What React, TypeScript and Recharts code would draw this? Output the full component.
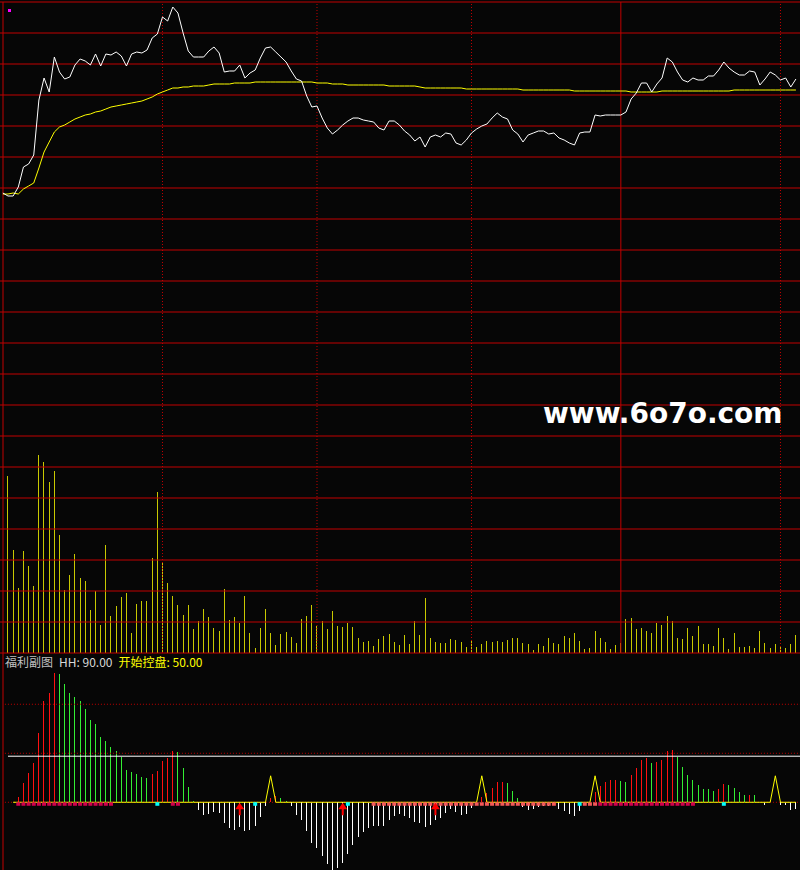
import React from 'react';
import { ComposedChart, Bar, Line, Scatter, XAxis, YAxis, ReferenceLine, Cell } from 'recharts';

// intraday minute data, index -1 is the call-auction point
const PRICE = [
  29.09,
  29.06, 29.06, 29.15, 29.35, 29.38, 29.47, 30.02, 30.24, 30.10, 30.45,
  30.30, 30.23, 30.25, 30.37, 30.43, 30.41, 30.37, 30.48, 30.36, 30.48,
  30.47, 30.50, 30.46, 30.36, 30.48, 30.50, 30.49, 30.52, 30.64, 30.68,
  30.85, 30.81, 30.95, 30.89, 30.69, 30.51, 30.45, 30.45, 30.45, 30.51,
  30.55, 30.49, 30.30, 30.31, 30.31, 30.37, 30.24, 30.29, 30.32, 30.44,
  30.54, 30.55, 30.50, 30.45, 30.40, 30.31, 30.23, 30.21, 30.06, 29.95,
  29.96, 29.84, 29.74, 29.68, 29.72, 29.77, 29.81, 29.84, 29.84, 29.82,
  29.81, 29.80, 29.74, 29.72, 29.81, 29.81, 29.77, 29.71, 29.67, 29.61,
  29.65, 29.55, 29.65, 29.67, 29.65, 29.69, 29.68, 29.59, 29.57, 29.62,
  29.69, 29.73, 29.76, 29.78, 29.84, 29.89, 29.85, 29.83, 29.72, 29.68,
  29.60, 29.67, 29.69, 29.71, 29.71, 29.68, 29.69, 29.64, 29.62, 29.59,
  29.57, 29.69, 29.70, 29.70, 29.87, 29.86, 29.87, 29.87, 29.87, 29.87,
  29.90, 30.03, 30.09, 30.19, 30.19, 30.10, 30.18, 30.24, 30.44, 30.40,
  30.30, 30.22, 30.20, 30.24, 30.22, 30.22, 30.26, 30.26, 30.32, 30.40,
  30.34, 30.30, 30.27, 30.27, 30.31, 30.30, 30.17, 30.23, 30.30, 30.27,
  30.22, 30.24, 30.15, 30.23,
];

const AVG_PRICE = [
  29.08,
  29.08, 29.09, 29.08, 29.13, 29.16, 29.19, 29.34, 29.50, 29.60, 29.70,
  29.75, 29.77, 29.80, 29.83, 29.85, 29.87, 29.88, 29.90, 29.91, 29.93,
  29.95, 29.96, 29.97, 29.98, 29.99, 30.00, 30.01, 30.03, 30.05, 30.08,
  30.10, 30.12, 30.14, 30.14, 30.15, 30.15, 30.16, 30.16, 30.16, 30.17,
  30.18, 30.18, 30.18, 30.18, 30.19, 30.19, 30.19, 30.19, 30.20, 30.20,
  30.20, 30.20, 30.20, 30.20, 30.20, 30.20, 30.20, 30.20, 30.20, 30.20,
  30.19, 30.19, 30.19, 30.18, 30.18, 30.18, 30.17, 30.17, 30.17, 30.17,
  30.17, 30.17, 30.17, 30.17, 30.16, 30.16, 30.16, 30.16, 30.16, 30.16,
  30.15, 30.14, 30.14, 30.14, 30.14, 30.14, 30.14, 30.14, 30.14, 30.13,
  30.13, 30.13, 30.13, 30.13, 30.13, 30.13, 30.13, 30.13, 30.13, 30.13,
  30.12, 30.12, 30.12, 30.12, 30.12, 30.12, 30.12, 30.12, 30.12, 30.12,
  30.11, 30.11, 30.11, 30.11, 30.11, 30.11, 30.11, 30.11, 30.11, 30.11,
  30.11, 30.10, 30.10, 30.10, 30.10, 30.10, 30.10, 30.11, 30.11, 30.11,
  30.11, 30.11, 30.11, 30.11, 30.11, 30.11, 30.11, 30.11, 30.11, 30.11,
  30.11, 30.12, 30.12, 30.12, 30.12, 30.12, 30.12, 30.12, 30.12, 30.12,
  30.12, 30.12, 30.12, 30.12,
];

// lots per minute
const VOLUME = [
  1770, 1030, 650, 1020, 870, 670, 1980, 1910, 1710, 1820,
  1180, 630, 780, 990, 750, 720, 430, 620, 280, 1080,
  370, 470, 560, 600, 200, 490, 520, 520, 950, 1610,
  910, 700, 570, 480, 380, 480, 240, 320, 440, 360,
  250, 220, 640, 330, 360, 300, 570, 200, 50, 250,
  440, 200, 80, 190, 210, 160, 100, 340, 370, 480,
  270, 320, 240, 420, 270, 260, 300, 260, 150, 110,
  120, 70, 140, 170, 190, 110, 80, 180, 90, 320,
  180, 550, 150, 110, 100, 100, 140, 130, 110, 60,
  130, 60, 90, 120, 110, 120, 110, 130, 150, 150,
  100, 90, 30, 90, 70, 150, 100, 90, 170, 150,
  200, 120, 40, 50, 220, 150, 110, 40, 80, 100,
  340, 350, 240, 250, 220, 200, 300, 280, 370, 320,
  150, 140, 250, 170, 270, 90, 90, 70, 250, 150,
  40, 200, 60, 60, 70, 50, 220, 100, 50, 90,
  60, 50, 90, 180,
];

const PRICE_GRID = [
  31.00, 30.69, 30.38, 30.07, 29.76, 29.45, 29.14, 28.83, 28.52, 28.21, 27.90,
  27.59, 27.28, 26.97, 26.66, 26.35, 26.04, 25.73, 25.42, 25.11, 24.80, 24.49,
];
const HALF_HOUR_MARKS = [30, 60, 90, 150];
const NOON_MARK = 119;

// 福利副图 indicator
const INDICATOR = [
  null, 0, 5.8, 20.1, 29.9, 40.1, 70.7, 103.3, 111.9, 131.9,
  130.9, 120.7, 111.5, 107.4, 103.3, 95.2, 83.9, 79.9, 66.6, 62.5,
  56.4, 52.3, 46.2, 32.9, 30.9, 28.9, 25.8, 24.8, 28.9, 31.9,
  42.1, 45.2, 52.3, 51.3, 35.0, 15.6, 1.3, -7.9, -13.0, -11.9,
  -9.9, -10.9, -21.1, -26.2, -28.3, -25.2, -29.3, -28.3, -24.2, -15.0,
  -3.8, 4.1, 6.8, 4.8, 1.3, -3.8, -13.0, -18.1, -29.3, -41.5,
  -46.6, -54.8, -63.0, -73.5, -67.0, -61.9, -52.8, -43.6, -35.4, -30.3,
  -26.2, -24.2, -24.2, -24.2, -18.1, -14.0, -11.9, -14.0, -16.0, -20.1,
  -21.1, -25.2, -23.2, -18.1, -16.0, -10.9, -6.8, -9.9, -13.0, -11.9,
  -5.8, 0, 5.4, 9.2, 14.6, 20.7, 20.7, 19.7, 11.5, 4.4,
  -4.4, -7.9, -6.8, -5.1, -3.4, -3.8, -2.0, -6.8, -8.9, -11.9,
  -14.0, -8.9, -2.0, 0, 10.9, 16.6, 20.7, 22.8, 22.8, 21.7,
  20.7, 27.9, 35.0, 43.2, 45.2, 40.1, 41.1, 43.2, 52.3, 53.3,
  46.2, 36.0, 27.9, 22.8, 17.6, 13.6, 13.3, 11.5, 13.6, 18.7,
  17.6, 14.6, 10.5, 7.4, 7.6, 7.3, 0, -2.8, 0, 0,
  -2.8, -2.8, -7.9, -6.8,
];
const TRIGGER_BARS = [51, 92, 114, 149];
const TRIGGER_LEVEL = 27;
const HOLD_SIGNAL = [
  2, 3, 4, 5, 6, 7, 8, 9, 10, 11, 12, 13, 14, 15, 16, 17, 18, 19, 20, 32, 33,
  115, 116, 117, 118, 119, 120, 121, 122, 123, 124, 125, 126, 127, 128, 129, 130, 131, 132, 133,
];
const WATCH_SIGNAL = [
  71, 72, 73, 74, 75, 76, 77, 78, 79, 80, 81, 82, 83, 84, 85, 86, 87, 88, 89, 90,
  91, 92, 93, 94, 95, 96, 97, 98, 99, 100, 101, 102, 103, 104, 105, 106, 112, 113, 114,
];
const TURN_SIGNAL = [29, 48, 66, 111, 139];
const BUY_ARROWS = [45, 65, 83];
const HH = 90;
const START_CONTROL = 50;
const BASE_LEVEL = 47;
const GUIDE_LEVELS = [0, 50, 100];

const X_DOMAIN: [number, number] = [-1.553, 153.79];
const GRID_RED = '#c00000';
const BAR_RED = '#ff1010';
const BAR_GREEN = '#33ee33';

const priceRows = PRICE.map((p, k) => ({
  i: k - 1,
  price: p,
  avg: AVG_PRICE[k],
  vol: k > 0 ? VOLUME[k - 1] : null,
}));

const indRows = INDICATOR.map((v, i) => ({
  i,
  ind: v,
  trig: i === 0 ? null : TRIGGER_BARS.includes(i) ? TRIGGER_LEVEL : 0,
}));

const barColor = (i: number) => {
  const v = INDICATOR[i];
  if (v == null) return 'transparent';
  if (v < 0) return '#ffffff';
  const prev = INDICATOR[i - 1] ?? 0;
  return v >= prev ? BAR_RED : BAR_GREEN;
};

const pts = (list: number[]) => list.map((i) => ({ i, v: 0 }));

const square = (color: string) => (props: any) => (
  <rect x={props.cx - 2} y={props.cy} width={4} height={3.5} fill={color} />
);

const arrow = (props: any) => {
  const { cx, cy } = props;
  const d = `M${cx},${cy + 0.5} L${cx + 4.5},${cy + 7} L${cx + 1},${cy + 7} L${cx + 1},${cy + 13} L${cx - 1},${cy + 13} L${cx - 1},${cy + 7} L${cx - 4.5},${cy + 7} Z`;
  return <path d={d} fill="#ff0000" />;
};

const App: React.FC = () => {
  return (
    <div style={{ position: 'absolute', left: 0, top: 0, width: 800, height: 870, background: '#060606', overflow: 'hidden' }}>
      {/* indicator panel */}
      <div style={{ position: 'absolute', left: 0, top: 653 }}>
        <ComposedChart width={800} height={217} data={indRows} margin={{ top: 0, right: 0, bottom: 0, left: 0 }}>
          <XAxis dataKey="i" type="number" domain={X_DOMAIN} hide allowDataOverflow />
          <YAxis type="number" domain={[-69.1, 152.3]} hide allowDataOverflow />
          {GUIDE_LEVELS.map((g) => (
            <ReferenceLine
              key={g}
              segment={[{ x: -0.6, y: g }, { x: X_DOMAIN[1], y: g }]}
              stroke={GRID_RED}
              strokeDasharray="1 2"
              ifOverflow="visible"
            />
          ))}
          <ReferenceLine
            segment={[{ x: 0, y: BASE_LEVEL }, { x: X_DOMAIN[1], y: BASE_LEVEL }]}
            stroke="#ffffff"
            ifOverflow="visible"
          />
          <ReferenceLine x={-0.97} stroke={GRID_RED} ifOverflow="visible" />
          <Bar dataKey="ind" barSize={1} isAnimationActive={false} shapeRendering="crispEdges">
            {indRows.map((r) => (
              <Cell key={`c-${r.i}`} fill={barColor(r.i)} />
            ))}
          </Bar>
          <Line dataKey="trig" type="linear" stroke="#ffff00" strokeWidth={1} dot={false} activeDot={false} isAnimationActive={false} />
          <Scatter data={pts(HOLD_SIGNAL)} dataKey="v" shape={square('#d0004c')} isAnimationActive={false} />
          <Scatter data={pts(WATCH_SIGNAL)} dataKey="v" shape={square('#f25858')} isAnimationActive={false} />
          <Scatter data={pts(TURN_SIGNAL)} dataKey="v" shape={square('#00ffff')} isAnimationActive={false} />
          <Scatter data={pts(BUY_ARROWS)} dataKey="v" shape={arrow} isAnimationActive={false} />
        </ComposedChart>
      </div>

      {/* price + volume panel */}
      <div style={{ position: 'absolute', left: 0, top: 0 }}>
        <ComposedChart width={800} height={655} data={priceRows} margin={{ top: 2, right: 0, bottom: 2, left: 0 }}>
          <XAxis dataKey="i" type="number" domain={X_DOMAIN} hide allowDataOverflow />
          <YAxis yAxisId="p" type="number" domain={[24.49, 31.0]} hide allowDataOverflow />
          <YAxis yAxisId="v" type="number" domain={[0, 6510]} hide allowDataOverflow />
          {PRICE_GRID.map((g) => (
            <ReferenceLine key={g} yAxisId="p" y={g} stroke={GRID_RED} ifOverflow="visible" />
          ))}
          {HALF_HOUR_MARKS.map((m) => (
            <ReferenceLine key={m} yAxisId="p" x={m} stroke={GRID_RED} strokeDasharray="1 2" ifOverflow="visible" />
          ))}
          <ReferenceLine yAxisId="p" x={NOON_MARK} stroke={GRID_RED} ifOverflow="visible" />
          <ReferenceLine yAxisId="p" x={-0.97} stroke={GRID_RED} ifOverflow="visible" />
          <Bar yAxisId="v" dataKey="vol" barSize={1} fill="#c8c800" isAnimationActive={false} shapeRendering="crispEdges" />
          <Line yAxisId="p" dataKey="avg" type="linear" stroke="#ffff00" strokeWidth={1} dot={false} activeDot={false} isAnimationActive={false} />
          <Line yAxisId="p" dataKey="price" type="linear" stroke="#ffffff" strokeWidth={1} dot={false} activeDot={false} isAnimationActive={false} />
        </ComposedChart>
      </div>

      <div style={{ position: 'absolute', left: 8, top: 9, width: 3, height: 3, background: '#ff00ff' }} />

      <div
        style={{
          position: 'absolute',
          left: 543,
          top: 400,
          fontFamily: '"DejaVu Sans", sans-serif',
          fontWeight: 'bold',
          fontSize: 28,
          lineHeight: '28px',
          color: '#ffffff',
          whiteSpace: 'nowrap',
        }}
      >
        www.6o7o.com
      </div>

      <div
        style={{
          position: 'absolute',
          left: 5,
          top: 655,
          fontFamily: '"Noto Sans CJK SC", sans-serif',
          fontSize: 12,
          lineHeight: '14px',
          whiteSpace: 'nowrap',
        }}
      >
        <span style={{ color: '#c0c0c0' }}>福利副图</span>
        <span style={{ color: '#d8d8d8', marginLeft: 6 }}>HH: {HH.toFixed(2)}</span>
        <span style={{ color: '#ffff00', marginLeft: 6 }}>开始控盘: {START_CONTROL.toFixed(2)}</span>
      </div>
    </div>
  );
};

export default App;
